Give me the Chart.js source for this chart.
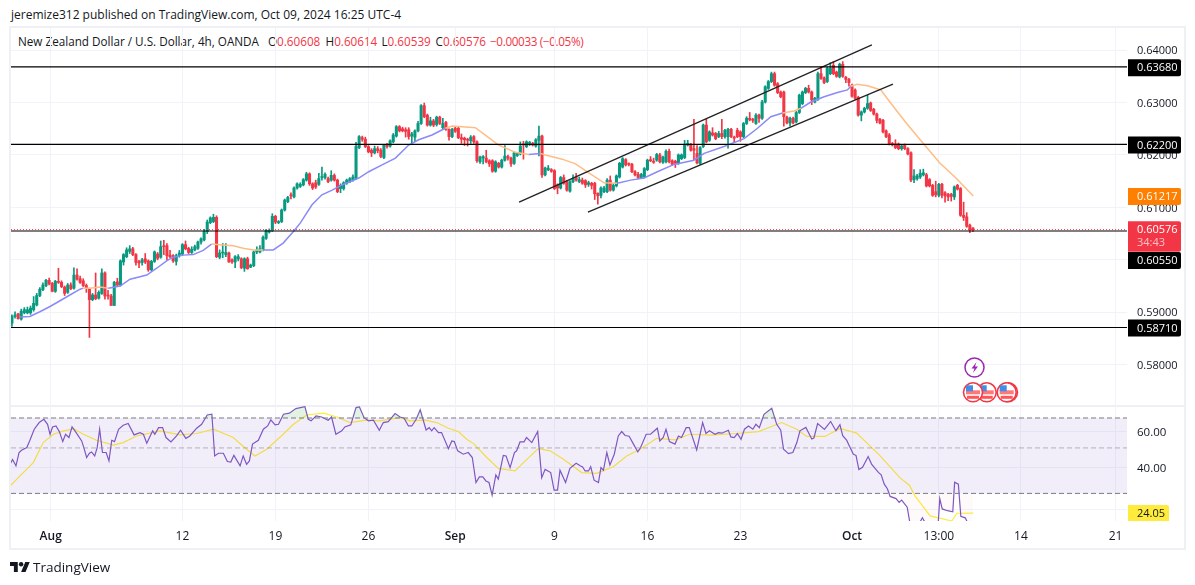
<!DOCTYPE html>
<html>
<head>
<meta charset="utf-8">
<title>NZD/USD 4h</title>
<script src="https://cdn.jsdelivr.net/npm/chart.js@4/dist/chart.umd.js"></script>
<style>
  html, body { margin: 0; padding: 0; background: #fff; }
  body { width: 1195px; height: 585px; position: relative; overflow: hidden; font-family: "Open Sans", sans-serif; color: #131722; }
  canvas { position: absolute; left: 0; top: 0; }
  #frame { position: absolute; left: 9px; top: 26px; width: 1173px; height: 520px; border: 2px solid #eef0f5; }
  #sep { position: absolute; left: 11px; top: 405px; width: 1173px; height: 2px; background: #eef0f5; }
  #published { position: absolute; left: 11px; top: 6px; font-size: 12px; white-space: nowrap; }
  #legend { position: absolute; left: 18px; top: 33px; font-size: 11.7px; white-space: nowrap; }
  #legend span { color: #f23645; }
  #legend i { font-style: normal; position: absolute; top: 0; }
  #change { letter-spacing: -0.35px; }
  #brand { position: absolute; left: 33px; top: 558px; font-size: 13.5px; }
  #logo { position: absolute; left: 10px; top: 561px; }
  #events { position: absolute; left: 960px; top: 355px; }
</style>
</head>
<body>
<div id="frame"></div>
<div id="sep"></div>
<div id="published">jeremize312 published on TradingView.com, Oct 09, 2024 16:25 UTC-4</div>
<div id="legend">New Zealand Dollar / U.S. Dollar, 4h, OANDA<i style="left:250px">O<span>0.60608</span></i><i style="left:307.5px">H<span>0.60614</span></i><i style="left:363.5px">L<span>0.60539</span></i><i style="left:417.5px">C<span>0.60576</span></i><i style="left:472px"><span id="change">−0.00033 (−0.05%)</span></i></div>
<canvas id="priceChart" width="1195" height="585"></canvas>
<canvas id="rsiChart" width="1195" height="585"></canvas>
<svg id="logo" width="20" height="12" viewBox="0 4 36 18"><path fill="#131722" d="M14 22H7V11H0V4h14v18zM28 22h-8l7.5-18h8L28 22z"/><circle cx="20" cy="8" r="4" fill="#131722"/></svg>
<div id="brand">TradingView</div>
<svg id="events" width="62" height="52">
  <g fill="#fff" stroke="#9c27b0" stroke-width="1.5"><circle cx="14.5" cy="12.5" r="9.5"/></g>
  <path d="M16.5 7l-5 6.5h3l-1.5 4.5 5-6.5h-3z" fill="#9c27b0"/>
  <g id="flags"></g>
</svg>
<script>
// candles, 4h bars
const opens = [
0.5879,0.5892,0.5897,0.5887,0.5899,0.5899,0.5899,0.5905,0.5914,0.5932,
0.5943,0.5951,0.5961,0.5955,0.5940,0.5958,0.5957,0.5948,0.5938,0.5952,
0.5946,0.5971,0.5964,0.5960,0.5951,0.5944,0.5924,0.5933,0.5927,0.5936,
0.5975,0.5932,0.5931,0.5913,0.5958,0.5952,0.5996,0.6006,0.6016,0.6021,
0.6010,0.5997,0.5995,0.6002,0.5998,0.5981,0.5997,0.6011,0.6005,0.6026,
0.6027,0.6009,0.6008,0.5997,0.6008,0.6011,0.6029,0.6022,0.6014,0.6019,
0.6022,0.6034,0.6038,0.6054,0.6071,0.6073,0.6081,0.6005,0.6013,0.6010,
0.6013,0.6000,0.5996,0.6002,0.6002,0.5984,0.6002,0.5986,0.5989,0.6015,
0.6015,0.6019,0.6041,0.6053,0.6056,0.6083,0.6071,0.6073,0.6095,0.6111,
0.6124,0.6120,0.6137,0.6140,0.6143,0.6152,0.6164,0.6145,0.6147,0.6144,
0.6157,0.6157,0.6155,0.6152,0.6161,0.6152,0.6136,0.6136,0.6146,0.6149,
0.6152,0.6155,0.6214,0.6233,0.6230,0.6216,0.6209,0.6204,0.6212,0.6209,
0.6195,0.6220,0.6217,0.6225,0.6236,0.6254,0.6250,0.6248,0.6248,0.6236,
0.6234,0.6246,0.6260,0.6294,0.6276,0.6257,0.6265,0.6258,0.6272,0.6252,
0.6262,0.6249,0.6235,0.6251,0.6251,0.6233,0.6232,0.6230,0.6227,0.6235,
0.6225,0.6187,0.6194,0.6194,0.6189,0.6189,0.6169,0.6184,0.6177,0.6190,
0.6197,0.6194,0.6184,0.6199,0.6202,0.6221,0.6216,0.6222,0.6222,0.6217,
0.6228,0.6236,0.6162,0.6172,0.6172,0.6170,0.6143,0.6137,0.6157,0.6149,
0.6131,0.6149,0.6157,0.6149,0.6152,0.6151,0.6144,0.6146,0.6146,0.6127,
0.6123,0.6130,0.6130,0.6152,0.6133,0.6141,0.6158,0.6177,0.6191,0.6183,
0.6182,0.6168,0.6163,0.6157,0.6158,0.6172,0.6191,0.6188,0.6190,0.6200,
0.6186,0.6187,0.6207,0.6189,0.6188,0.6184,0.6193,0.6195,0.6219,0.6220,
0.6212,0.6203,0.6184,0.6216,0.6257,0.6228,0.6242,0.6241,0.6235,0.6241,
0.6235,0.6235,0.6249,0.6234,0.6247,0.6244,0.6235,0.6260,0.6270,0.6268,
0.6260,0.6276,0.6270,0.6301,0.6327,0.6340,0.6355,0.6336,0.6320,0.6320,
0.6272,0.6261,0.6270,0.6263,0.6281,0.6298,0.6319,0.6327,0.6320,0.6301,
0.6306,0.6355,0.6347,0.6340,0.6355,0.6371,0.6358,0.6349,0.6373,0.6348,
0.6344,0.6333,0.6324,0.6310,0.6276,0.6282,0.6289,0.6299,0.6287,0.6278,
0.6268,0.6266,0.6246,0.6238,0.6222,0.6221,0.6221,0.6212,0.6219,0.6212,
0.6204,0.6153,0.6155,0.6158,0.6162,0.6162,0.6153,0.6142,0.6130,0.6123,
0.6144,0.6128,0.6125,0.6125,0.6120,0.6142,0.6136,0.6085,0.6082,0.6066,
0.60608];
const closes = [
0.5892,0.5895,0.5888,0.5902,0.5905,0.5905,0.5908,0.5917,0.5932,0.5944,
0.5952,0.5961,0.5954,0.5940,0.5959,0.5957,0.5949,0.5936,0.5952,0.5945,
0.5971,0.5963,0.5957,0.5951,0.5946,0.5924,0.5933,0.5926,0.5938,0.5975,
0.5931,0.5931,0.5913,0.5957,0.5952,0.5998,0.6010,0.6019,0.6021,0.6010,
0.5995,0.5994,0.6000,0.5996,0.5981,0.5997,0.6015,0.6003,0.6025,0.6025,
0.6008,0.6006,0.5998,0.6008,0.6013,0.6029,0.6021,0.6014,0.6020,0.6025,
0.6034,0.6040,0.6054,0.6072,0.6080,0.6081,0.6006,0.6013,0.6014,0.6014,
0.5996,0.5996,0.6006,0.6006,0.5985,0.6002,0.5983,0.5990,0.6015,0.6019,
0.6021,0.6043,0.6056,0.6056,0.6083,0.6072,0.6073,0.6095,0.6114,0.6119,
0.6122,0.6137,0.6145,0.6144,0.6153,0.6164,0.6145,0.6137,0.6139,0.6155,
0.6158,0.6163,0.6149,0.6161,0.6152,0.6130,0.6142,0.6147,0.6152,0.6155,
0.6158,0.6216,0.6235,0.6230,0.6216,0.6206,0.6204,0.6212,0.6208,0.6197,
0.6219,0.6216,0.6227,0.6238,0.6254,0.6246,0.6246,0.6245,0.6235,0.6240,
0.6246,0.6260,0.6294,0.6273,0.6257,0.6265,0.6257,0.6272,0.6260,0.6260,
0.6249,0.6235,0.6249,0.6245,0.6233,0.6230,0.6229,0.6228,0.6234,0.6225,
0.6189,0.6196,0.6197,0.6187,0.6183,0.6169,0.6187,0.6177,0.6190,0.6198,
0.6194,0.6183,0.6204,0.6203,0.6217,0.6219,0.6225,0.6224,0.6219,0.6229,
0.6236,0.6162,0.6175,0.6175,0.6169,0.6136,0.6137,0.6157,0.6146,0.6133,
0.6149,0.6155,0.6152,0.6153,0.6146,0.6143,0.6147,0.6142,0.6126,0.6122,
0.6137,0.6137,0.6152,0.6133,0.6142,0.6160,0.6184,0.6193,0.6181,0.6182,
0.6168,0.6162,0.6157,0.6163,0.6174,0.6190,0.6189,0.6186,0.6201,0.6187,
0.6196,0.6207,0.6187,0.6182,0.6184,0.6200,0.6200,0.6219,0.6222,0.6209,
0.6209,0.6185,0.6214,0.6257,0.6225,0.6244,0.6238,0.6231,0.6241,0.6235,
0.6247,0.6249,0.6235,0.6232,0.6235,0.6235,0.6260,0.6270,0.6267,0.6266,
0.6276,0.6270,0.6301,0.6330,0.6340,0.6355,0.6333,0.6319,0.6311,0.6273,
0.6261,0.6270,0.6261,0.6281,0.6314,0.6320,0.6327,0.6320,0.6305,0.6308,
0.6355,0.6346,0.6338,0.6365,0.6365,0.6355,0.6350,0.6373,0.6350,0.6344,
0.6338,0.6312,0.6308,0.6276,0.6282,0.6289,0.6298,0.6285,0.6278,0.6266,
0.6261,0.6244,0.6235,0.6221,0.6219,0.6214,0.6212,0.6217,0.6212,0.6202,
0.6152,0.6160,0.6160,0.6165,0.6166,0.6141,0.6141,0.6123,0.6124,0.6144,
0.6123,0.6122,0.6120,0.6121,0.6139,0.6135,0.6085,0.6081,0.6064,0.6057,
0.60576];
const highs = [
0.5895,0.5901,0.5898,0.5906,0.5909,0.5910,0.5912,0.5930,0.5936,0.5947,
0.5956,0.5963,0.5965,0.5957,0.5961,0.5984,0.5960,0.5950,0.5955,0.5956,
0.5985,0.5983,0.5969,0.5964,0.5954,0.5946,0.5936,0.5975,0.5941,0.5983,
0.5977,0.5942,0.5934,0.5959,0.5965,0.6000,0.6012,0.6023,0.6027,0.6024,
0.6012,0.5999,0.6003,0.6012,0.6000,0.5999,0.6017,0.6014,0.6036,0.6037,
0.6031,0.6018,0.6010,0.6011,0.6018,0.6031,0.6036,0.6024,0.6025,0.6028,
0.6036,0.6042,0.6058,0.6076,0.6082,0.6087,0.6084,0.6019,0.6031,0.6031,
0.6015,0.6002,0.6008,0.6010,0.6004,0.6004,0.6005,0.5992,0.6017,0.6025,
0.6027,0.6046,0.6058,0.6059,0.6088,0.6085,0.6075,0.6097,0.6116,0.6121,
0.6128,0.6139,0.6147,0.6147,0.6155,0.6167,0.6166,0.6147,0.6152,0.6165,
0.6177,0.6166,0.6158,0.6170,0.6164,0.6154,0.6145,0.6149,0.6154,0.6157,
0.6162,0.6224,0.6237,0.6236,0.6234,0.6218,0.6212,0.6217,0.6216,0.6212,
0.6220,0.6222,0.6229,0.6241,0.6256,0.6256,0.6253,0.6252,0.6252,0.6243,
0.6248,0.6264,0.6296,0.6299,0.6278,0.6272,0.6268,0.6274,0.6274,0.6270,
0.6264,0.6250,0.6251,0.6253,0.6253,0.6240,0.6234,0.6232,0.6237,0.6237,
0.6227,0.6198,0.6199,0.6209,0.6191,0.6191,0.6189,0.6186,0.6192,0.6218,
0.6200,0.6196,0.6206,0.6205,0.6225,0.6226,0.6227,0.6226,0.6224,0.6231,
0.6255,0.6238,0.6177,0.6180,0.6174,0.6172,0.6145,0.6159,0.6162,0.6151,
0.6151,0.6162,0.6165,0.6158,0.6156,0.6153,0.6150,0.6148,0.6148,0.6128,
0.6139,0.6140,0.6155,0.6160,0.6145,0.6162,0.6186,0.6195,0.6193,0.6185,
0.6184,0.6170,0.6167,0.6165,0.6176,0.6192,0.6197,0.6194,0.6203,0.6203,
0.6198,0.6210,0.6211,0.6191,0.6190,0.6202,0.6202,0.6228,0.6228,0.6222,
0.6268,0.6218,0.6216,0.6259,0.6268,0.6246,0.6252,0.6243,0.6245,0.6268,
0.6249,0.6251,0.6251,0.6236,0.6251,0.6246,0.6262,0.6273,0.6281,0.6270,
0.6279,0.6278,0.6304,0.6332,0.6342,0.6358,0.6358,0.6338,0.6322,0.6322,
0.6274,0.6272,0.6272,0.6283,0.6316,0.6322,0.6329,0.6333,0.6322,0.6310,
0.6358,0.6368,0.6349,0.6367,0.6376,0.6378,0.6360,0.6375,0.6378,0.6350,
0.6346,0.6335,0.6326,0.6312,0.6284,0.6291,0.6314,0.6301,0.6289,0.6280,
0.6270,0.6268,0.6248,0.6241,0.6224,0.6229,0.6223,0.6219,0.6221,0.6214,
0.6206,0.6172,0.6163,0.6172,0.6173,0.6165,0.6155,0.6144,0.6150,0.6146,
0.6146,0.6130,0.6127,0.6127,0.6141,0.6144,0.6138,0.6110,0.6090,0.6068,
0.60614];
const lows = [
0.5873,0.5889,0.5887,0.5885,0.5897,0.5897,0.5896,0.5902,0.5912,0.5930,
0.5941,0.5949,0.5952,0.5939,0.5938,0.5955,0.5947,0.5932,0.5936,0.5943,
0.5944,0.5961,0.5955,0.5949,0.5938,0.5852,0.5922,0.5924,0.5925,0.5934,
0.5925,0.5925,0.5913,0.5913,0.5950,0.5950,0.5990,0.6004,0.6012,0.6008,
0.5990,0.5985,0.5990,0.5993,0.5978,0.5979,0.5995,0.6000,0.6003,0.6010,
0.6000,0.6004,0.5995,0.5990,0.6005,0.6009,0.6019,0.6012,0.6012,0.6017,
0.6020,0.6030,0.6036,0.6050,0.6069,0.6071,0.6004,0.6002,0.6004,0.6006,
0.5995,0.5993,0.5985,0.5998,0.5983,0.5978,0.5982,0.5985,0.5987,0.6012,
0.6013,0.6017,0.6039,0.6051,0.6054,0.6069,0.6069,0.6071,0.6093,0.6109,
0.6116,0.6118,0.6135,0.6138,0.6141,0.6150,0.6142,0.6134,0.6136,0.6142,
0.6152,0.6154,0.6147,0.6150,0.6150,0.6128,0.6128,0.6133,0.6144,0.6147,
0.6150,0.6153,0.6212,0.6226,0.6214,0.6204,0.6197,0.6202,0.6204,0.6195,
0.6193,0.6213,0.6215,0.6223,0.6234,0.6244,0.6244,0.6234,0.6230,0.6222,
0.6226,0.6244,0.6258,0.6271,0.6255,0.6255,0.6254,0.6255,0.6258,0.6250,
0.6247,0.6228,0.6233,0.6243,0.6231,0.6222,0.6218,0.6217,0.6222,0.6222,
0.6186,0.6184,0.6183,0.6185,0.6178,0.6167,0.6167,0.6175,0.6175,0.6188,
0.6190,0.6178,0.6182,0.6197,0.6200,0.6192,0.6214,0.6218,0.6217,0.6215,
0.6198,0.6157,0.6160,0.6170,0.6167,0.6134,0.6126,0.6135,0.6144,0.6131,
0.6129,0.6147,0.6150,0.6147,0.6144,0.6138,0.6140,0.6135,0.6115,0.6106,
0.6118,0.6128,0.6128,0.6131,0.6131,0.6139,0.6156,0.6175,0.6179,0.6179,
0.6166,0.6160,0.6155,0.6155,0.6156,0.6170,0.6187,0.6184,0.6188,0.6185,
0.6184,0.6185,0.6185,0.6180,0.6176,0.6182,0.6191,0.6193,0.6217,0.6207,
0.6191,0.6183,0.6182,0.6214,0.6223,0.6226,0.6236,0.6229,0.6233,0.6231,
0.6232,0.6213,0.6233,0.6225,0.6233,0.6226,0.6233,0.6258,0.6265,0.6262,
0.6258,0.6262,0.6268,0.6299,0.6325,0.6338,0.6331,0.6317,0.6309,0.6255,
0.6259,0.6255,0.6259,0.6261,0.6279,0.6296,0.6317,0.6318,0.6296,0.6299,
0.6304,0.6344,0.6336,0.6338,0.6353,0.6353,0.6348,0.6347,0.6348,0.6338,
0.6331,0.6310,0.6306,0.6274,0.6265,0.6280,0.6287,0.6283,0.6276,0.6261,
0.6259,0.6242,0.6233,0.6219,0.6217,0.6212,0.6210,0.6209,0.6210,0.6200,
0.6149,0.6147,0.6152,0.6155,0.6160,0.6139,0.6139,0.6121,0.6120,0.6120,
0.6118,0.6110,0.6113,0.6112,0.6115,0.6133,0.6083,0.6075,0.6062,0.6052,
0.60539];

// moving average under the candles, blue while price is above it, orange below
const trendX = [2.6,5.8,9,12.3,15.5,18.7,22,23,25.2,28.4,31.1,34.9,38.1,43.5,46.7,49.9,52,55.3,58.5,61.7,64.4,67.1,71.4,74.6,77.9,81.1,84.3,87.5,90.8,93,96.8,100,103.3,106.5,111.9,115.1,119.4,123.7,128,131.2,135.5,139.8,142,149.5,152.7,157,162.4,166.7,170.5,172.1,177.5,181.8,186.1,191,195.3,199.6,203.9,208.2,213.6,220,223.3,229.7,236.2,240.5,244.8,248.6,252.3,254.5,257.7,262,266.3,269.5,270.6,272.7,276,280.3,283.2,288.6,294,299.4,304.7,310.1];
const trendValues = [0.5891,0.5892,0.5901,0.5911,0.5922,0.5933,0.5944,0.5946,0.5946,0.5948,0.5946,0.5950,0.5963,0.5971,0.5984,0.5998,0.6005,0.6009,0.6010,0.6018,0.6030,0.6029,0.6027,0.6022,0.6019,0.6019,0.6019,0.6032,0.6054,0.6070,0.6105,0.6124,0.6133,0.6143,0.6156,0.6168,0.6181,0.6194,0.6219,0.6229,0.6238,0.6251,0.6255,0.6252,0.6238,0.6219,0.6205,0.6201,0.6203,0.6200,0.6192,0.6183,0.6166,0.6147,0.6146,0.6152,0.6156,0.6168,0.6182,0.6190,0.6203,0.6216,0.6231,0.6251,0.6273,0.6280,0.6284,0.6289,0.6301,0.6311,0.6319,0.6324,0.6331,0.6335,0.6332,0.6324,0.6301,0.6260,0.6222,0.6184,0.6155,0.61217];
const trendBelow = [[23,31.1],[52,52],[64.4,81.1],[139.8,166.7],[170.5,195.3],[248.6,254.5],[270.6,311]];

// drawn levels and channel
const levels = [0.6368, 0.6220, 0.6055, 0.5871];
const lastPrice = 0.60576;
const channelUpperX = [163.6, 277.4];
const channelUpperY = [0.6110, 0.6410];
const channelLowerX = [185.8, 284.2];
const channelLowerY = [0.6091, 0.6335];

// RSI and its moving average
const rsiX = [-0.6,0.2,1.3,2.3,3.1,4.8,5.8,7.2,8.8,10.3,11.5,12.3,13.1,14.2,15.3,16.4,17.3,18.4,19.4,20.5,22.5,23.2,24.1,25,25.7,26.7,27.5,28.3,29.2,30.4,31.3,32.2,33.1,34.4,35.9,37.5,39.4,41.3,42.4,43.5,45.4,46.1,47.3,48.6,49.7,51.3,53.1,54.4,56.1,57.4,59.6,61.2,63,64.5,65.4,66.6,68.2,69.5,70.6,71.6,73.6,74.6,75.7,76.6,77.6,79.5,81.1,82.5,83.5,84.9,86,87.6,89.5,91.6,94.5,95.6,96.5,98.1,99.9,102,103.1,104.5,106.4,107.4,109.3,111,112.1,113.6,115,116.6,118.5,119.8,121.4,123.6,125.2,
126.5,127.9,129,130.4,131.7,133.6,134.6,135.4,136.2,137.6,138.6,140.8,141.9,142.7,143.8,145.6,147.2,148.5,149.7,150.8,151.9,152.9,153.9,154.9,156.1,156.9,158.5,159.4,160.7,162.1,162.8,163.9,165.2,166,167.7,169.6,170.9,172,173.8,174.9,176,176.8,178.6,180,182,183.3,184.1,184.9,186,186.7,187.8,189.2,190,190.8,191.9,192.9,194.3,195.6,196.7,197.8,199.1,200.5,201.9,202.8,204.6,206,208.2,209,210.1,211,212.1,213.9,215,216,217.5,218.5,220.9,222.8,223.9,225,226.8,227.9,229,231.1,231.9,233,234,235.2,236.3,237.6,239,240,241.1,242.6,245.1,246.7,248,248.9,250.5,251.9,253.2,254.2,
256.1,258,258.7,259.9,262.1,264.1,265.8,267.1,268,269.3,270.1,271.4,272.3,273.2,274.4,276.2,277.3,279.5,280.4,281.4,282.4,283.3,285.2,286.2,287,288.8,289.7,291.3,293.7,294.8,297.2,298.8,299.3,300.1,301.8,303.5,304.1,305.3,306.1,307.5,308.5,310];
const rsiValues = [41.6,43.9,40.9,47.5,48.7,50.2,54.5,61.7,66.5,69,65.2,58.3,63.3,64,60.1,53.7,58.3,56.2,63.3,60.1,54.1,50.2,44.9,47.1,47.8,45.7,50.2,61.7,47.5,47.5,43.2,54.5,53.7,61.7,64.5,65.8,57.9,59.4,58.3,52.7,60.6,58.3,62.8,62.8,56.2,53.5,57.2,61,55.7,57.2,62.4,65.2,72.4,73,45.7,47.1,47.1,42.9,42.7,46,40.9,45.7,41.6,43.2,52.2,54.5,61.7,64,68.5,64.8,65.2,73,73.9,77.8,79.5,69,67.8,71.6,70.8,68.3,70.8,58.3,60.6,63.3,64.8,78.7,79.3,70.3,67.8,68.3,61,66.5,67.2,73.6,70.8,
69.8,64,64,69,76.7,61.2,62.8,60.6,62.8,59.4,59.4,49.6,54.1,53.7,48.4,46.6,47.5,44.9,33.9,36.1,36.1,34.5,33.9,29.4,36.9,35.2,46,45.7,40.1,47.5,48.4,53.5,53.5,56.2,53.1,60.1,35.8,39.3,37.9,31.1,31.1,38.9,33.9,39.8,42.1,40.9,40.4,38.6,38.6,40.5,34.8,33.9,40.1,38.9,47.5,41.3,46.6,57.2,60.1,57.5,57,52.2,47.8,50.2,58.3,58.3,62.4,54.1,56.2,61.7,53.7,52.2,57.2,56.2,62.8,62.8,48.9,66.5,58.8,60.6,58.3,59.4,59,61,56.6,56.2,58.8,55.1,61.7,64,61.7,65.2,62.8,73,78.1,65.2,61,49.3,46.9,47.5,53.1,60.6,
63,55.3,55.9,65.8,61.6,67.3,60.7,64.9,57.4,54.4,51.3,46.7,45.9,39.2,40.2,45.4,41.7,38,37,33.3,31.6,29,28.3,27.1,27.8,25.7,21.4,19.7,22.8,21.3,20,21.4,28.3,25.2,24.7,24.4,34,33.3,23.2,22.8,21.3,20];
const rsiMaX = [-0.6,2.6,6.9,10.1,13.4,16.6,20,23,27.3,32.7,35.9,40.2,47.8,54.2,59.6,65,71.4,75.7,78.4,82.2,87.5,90.8,95.1,100.5,104.8,109,114.4,118.7,125.2,128.4,133.3,137,140.8,144,146.7,148.9,153.2,156.9,162.3,166.1,169.8,173.6,177.9,183.8,188.6,194,198.3,202.6,208,213.9,218.7,225.2,233.8,240.8,248.3,253.2,256.4,262.3,267.1,272.5,280,286.5,289.5,291.3,296.2,303.2,304.8,310.1];
const rsiMaValues = [32.6,36.5,42.4,53.1,58.3,60.6,62,58.3,54.5,51.6,53.1,57.2,60.6,57.9,58.8,61.7,56.2,49.3,45.7,49.3,58.3,65.2,72.4,73.9,70.8,66.5,68.3,67.8,70.3,67.8,68.3,66.5,62.4,60.1,55.1,52.5,44.9,39.7,38.6,44,49.6,48.4,44,37.9,37.6,40.5,45.7,49.3,55.7,54.8,58.3,57.7,58.8,60.1,66.5,61.7,56.9,56.9,62.2,59.1,45.9,35.7,32.9,29.2,23.3,22,24,24.05];
const rsiLevels = [70, 50, 30];

// axes
const priceTicks = [0.64, 0.63, 0.62, 0.61, 0.60, 0.59, 0.58];
const rsiTicks = [60, 40, 25];
const xTickValues = [12.5, 55, 85, 115, 143, 175, 205, 235, 271, 299, 325.5, 356];
const xTickLabels = ['Aug', '12', '19', '26', 'Sep', '9', '16', '23', 'Oct', '13:00', '14', '21'];
const boldTicks = ['Aug', 'Sep', 'Oct'];

const FONT = '"Open Sans", sans-serif';
const GREEN = '#089981';
const RED = '#f23645';
const GRID = '#f0f3fa';
const X_MIN = -0.3;
const X_MAX = 359.7;

const xPts = (xs, ys) => xs.map((x, i) => ({ x: x, y: ys[i] }));
const hLine = v => [{ x: X_MIN, y: v }, { x: X_MAX, y: v }];
const candleColor = opens.map((o, i) => closes[i] >= o ? GREEN : RED);
const flat = { pointRadius: 0, fill: false, tension: 0 };

function isBelow(x) {
    return trendBelow.some(r => x > r[0] && x <= r[1]);
}

function badge(ctx, x, y, w, h, color, lines) {
    ctx.save();
    ctx.fillStyle = color;
    ctx.beginPath();
    ctx.roundRect(x, y, w, h, [0, 2, 2, 0]);
    ctx.fill();
    ctx.textBaseline = 'middle';
    ctx.textAlign = 'left';
    ctx.font = '11px ' + FONT;
    lines.forEach(l => {
        ctx.fillStyle = l.color;
        ctx.fillText(l.text, x + 9, l.y);
    });
    ctx.restore();
}

const priceBadges = {
    id: 'priceBadges',
    afterDraw(chart) {
        const y = chart.scales.y;
        const ctx = chart.ctx;
        const white = '#fff';
        const pill = (v, shift, color) => {
            const py = y.getPixelForValue(v) + shift;
            badge(ctx, 1128, py - 8, 53, 17, color, [{ text: v.toFixed(5), color: white, y: py + 1 }]);
        };
        pill(levels[0], 0.5, '#000');
        pill(levels[1], 0, '#000');
        pill(trendValues[trendValues.length - 1], 0, '#ff7f00');
        const last = y.getPixelForValue(lastPrice);
        badge(ctx, 1128, last - 8.5, 53, 30.5, RED, [
            { text: lastPrice.toFixed(5), color: white, y: last },
            { text: '34:43', color: '#fbc1c7', y: last + 13 }
        ]);
        pill(levels[2], 29, '#000');
        pill(levels[3], 0, '#000');
    }
};

const rsiBadge = {
    id: 'rsiBadge',
    afterDraw(chart) {
        const ctx = chart.ctx;
        const last = rsiMaValues[rsiMaValues.length - 1];
        const py = chart.scales.y.getPixelForValue(last);
        ctx.save();
        ctx.beginPath();
        ctx.rect(1128, 400, 60, chart.chartArea.bottom - 400);
        ctx.clip();
        badge(ctx, 1128, py - 8, 41, 17, '#ffeb3b', [{ text: last.toFixed(2), color: '#131722', y: py + 0.5 }]);
        ctx.restore();
    }
};

const sharedX = {
    type: 'linear',
    min: X_MIN,
    max: X_MAX,
    offset: false,
    afterBuildTicks(scale) {
        scale.ticks = xTickValues.map(v => ({ value: v }));
    },
    grid: { color: GRID, drawTicks: false, offset: false },
    border: { display: false }
};

new Chart(document.getElementById('priceChart').getContext('2d'), {
    type: 'bar',
    data: {
        datasets: [
            ...levels.map(v => ({ type: 'line', data: hLine(v), borderColor: '#000', borderWidth: 1.2, order: 1, ...flat })),
            { type: 'line', data: hLine(lastPrice), borderColor: RED, borderWidth: 1, borderDash: [1, 2], order: 0, ...flat },
            { type: 'line', data: xPts(channelUpperX, channelUpperY), borderColor: '#222', borderWidth: 1.3, order: 1, ...flat },
            { type: 'line', data: xPts(channelLowerX, channelLowerY), borderColor: '#222', borderWidth: 1.3, order: 1, ...flat },
            {
                type: 'line',
                data: xPts(trendX, trendValues),
                borderWidth: 1.5,
                order: 2,
                segment: {
                    borderColor: c => isBelow(c.p1.parsed.x) ? '#ffbd85' : '#8a8af8'
                },
                ...flat
            },
            {
                data: opens.map((o, i) => ({ x: i, y: [Math.min(o, closes[i]), Math.max(o, closes[i])] })),
                backgroundColor: candleColor,
                barThickness: 2.4,
                minBarLength: 1,
                grouped: false,
                order: 3
            },
            {
                data: opens.map((o, i) => ({ x: i, y: [lows[i], highs[i]] })),
                backgroundColor: candleColor,
                barThickness: 1,
                grouped: false,
                order: 4
            }
        ]
    },
    options: {
        responsive: false,
        animation: false,
        layout: { padding: { left: 11, right: 0, top: 28, bottom: 180 } },
        plugins: { legend: { display: false }, tooltip: { enabled: false } },
        scales: {
            x: { ...sharedX, ticks: { display: false } },
            y: {
                position: 'right',
                min: 0.57232,
                max: 0.64421,
                afterBuildTicks(scale) {
                    scale.ticks = priceTicks.map(v => ({ value: v }));
                },
                afterFit(scale) { scale.width = 68; },
                grid: { color: GRID, drawTicks: false },
                border: { display: false },
                ticks: {
                    padding: 10,
                    labelOffset: 1,
                    color: '#131722',
                    font: { family: FONT, size: 11 },
                    callback: v => v.toFixed(5)
                }
            }
        }
    },
    plugins: [priceBadges]
});

new Chart(document.getElementById('rsiChart').getContext('2d'), {
    type: 'line',
    data: {
        datasets: [
            {
                data: hLine(rsiLevels[0]),
                borderColor: '#787b86',
                borderWidth: 1,
                borderDash: [5, 3],
                pointRadius: 0,
                fill: { target: { value: rsiLevels[2] }, below: 'rgba(126,87,194,0.1)', above: 'rgba(126,87,194,0.1)' }
            },
            { data: hLine(rsiLevels[1]), borderColor: 'rgba(120,123,134,0.55)', borderWidth: 1, borderDash: [5, 3], ...flat },
            { data: hLine(rsiLevels[2]), borderColor: '#787b86', borderWidth: 1, borderDash: [5, 3], ...flat },
            {
                data: xPts(rsiX, rsiValues),
                borderWidth: 0,
                pointRadius: 0,
                fill: { target: { value: rsiLevels[0] }, above: 'rgba(76,175,80,0.16)', below: 'rgba(0,0,0,0)' }
            },
            {
                data: xPts(rsiX, rsiValues),
                borderWidth: 0,
                pointRadius: 0,
                fill: { target: { value: rsiLevels[2] }, above: 'rgba(0,0,0,0)', below: 'rgba(255,82,82,0.03)' }
            },
            { data: xPts(rsiX, rsiValues), borderColor: '#7e57c2', borderWidth: 1.2, ...flat },
            { data: xPts(rsiMaX, rsiMaValues), borderColor: '#ffeb3b', borderWidth: 1.2, ...flat }
        ]
    },
    options: {
        responsive: false,
        animation: false,
        layout: { padding: { left: 11, right: 0, top: 406, bottom: 36 } },
        plugins: { legend: { display: false }, tooltip: { enabled: false } },
        scales: {
            x: {
                ...sharedX,
                afterFit(scale) { scale.height = 28; },
                ticks: {
                    padding: 8,
                    autoSkip: false,
                    maxRotation: 0,
                    color: '#131722',
                    font: c => ({ family: FONT, size: 12, weight: c.tick && boldTicks.includes(c.tick.label) ? '600' : 'normal' }),
                    callback: v => xTickLabels[xTickValues.indexOf(v)]
                }
            },
            y: {
                type: 'logarithmic',
                position: 'right',
                min: 22,
                max: 80.1,
                afterBuildTicks(scale) {
                    scale.ticks = rsiTicks.map(v => ({ value: v }));
                },
                afterFit(scale) { scale.width = 68; },
                grid: { color: GRID, drawTicks: false },
                border: { display: false },
                ticks: {
                    padding: 10,
                    labelOffset: 1,
                    color: '#131722',
                    font: { family: FONT, size: 11.5 },
                    callback: v => v.toFixed(2)
                }
            }
        }
    },
    plugins: [rsiBadge]
});

// US calendar markers under the lightning one, the right one is a double
const flagCentres = [26.7, 48, 46.7, 13];
document.getElementById('flags').innerHTML = flagCentres.map(cx => {
    const cy = 37.3;
    return '<circle cx="' + cx + '" cy="' + cy + '" r="9.5" fill="#fff" stroke="#f23645" stroke-width="1.6"/>' +
        '<rect x="' + (cx - 7) + '" y="' + (cy - 2) + '" width="14" height="4" fill="#f77"/>' +
        '<rect x="' + (cx - 6) + '" y="' + (cy + 3.5) + '" width="12" height="3" fill="#f55"/>' +
        '<rect x="' + (cx - 7) + '" y="' + (cy - 7) + '" width="7" height="6" fill="#3d8fe8"/>';
}).join('');
</script>
</body>
</html>
